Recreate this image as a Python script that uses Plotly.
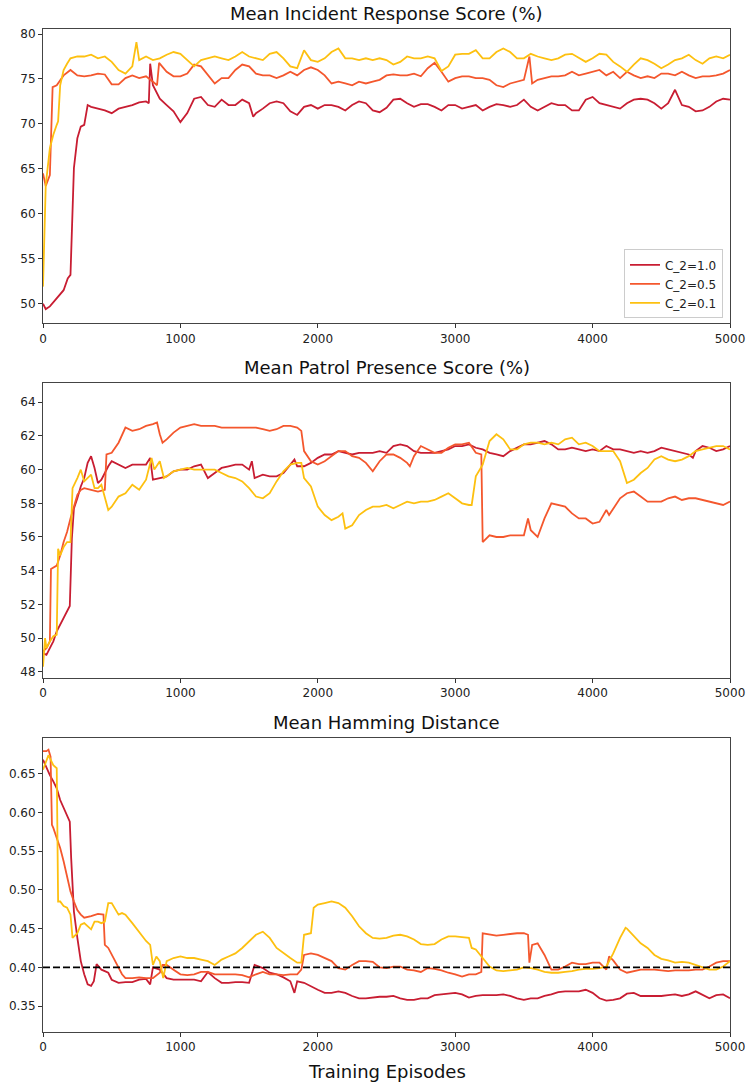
import plotly.graph_objects as go

# ---------------- text / categories ----------------
SERIES_NAMES = ["C_2=1.0", "C_2=0.5", "C_2=0.1"]
PANEL_TITLES = ["Mean Incident Response Score (%)",
                "Mean Patrol Presence Score (%)",
                "Mean Hamming Distance"]
X_LABEL = "Training Episodes"
X_TICKS = [0, 1000, 2000, 3000, 4000, 5000]
IR_TICKS = [50, 55, 60, 65, 70, 75, 80]
PP_TICKS = [48, 50, 52, 54, 56, 58, 60, 62, 64]
HD_TICKS = [0.35, 0.40, 0.45, 0.50, 0.55, 0.60, 0.65]
HD_TICKTEXT = ["0.35", "0.40", "0.45", "0.50", "0.55", "0.60", "0.65"]
HD_THRESHOLD = 0.40


def r50(a, b):
    return list(range(a, b + 1, 50))

# ---------------- Panel 1: incident response ----------------
EP_IR_10 = [0, 20, 50, 100, 150, 180, 200, 225, 250, 275, 300, 325, 350] + r50(400, 750) + [770, 780] + r50(800, 1500) + [1530] + r50(1550, 5000)
IR_10 = [50.0, 49.4, 49.7, 50.6, 51.5, 52.8, 53.2, 65.1, 68.4, 69.7, 69.9, 72.1, 71.9,
         71.7, 71.5, 71.2, 71.7, 71.9, 72.1, 72.4, 72.5,
         72.3, 76.7,
         74.3, 72.8, 72.1, 71.4, 70.2, 71.2, 72.8, 73.0, 72.1, 71.9, 72.7, 72.1, 72.1, 72.7, 72.3,
         70.8,
         71.2, 71.7, 72.3, 72.5, 72.3, 71.4, 71.0, 71.9, 72.1, 71.7,
         72.1, 72.1, 71.9, 71.5, 72.1, 72.5, 72.3, 71.5, 71.3, 71.8,
         72.7, 72.8, 72.3, 71.9, 72.2, 72.2, 71.9, 71.5, 72.1, 72.1,
         71.7, 71.9, 72.1, 71.5, 71.9, 72.2, 72.1, 71.9, 72.1, 72.7,
         71.9, 71.5, 71.9, 72.3, 72.1, 72.1, 71.5, 71.5, 72.7, 73.0,
         72.3, 72.1, 71.9, 71.7, 72.3, 72.7, 72.8, 72.7, 72.3, 71.7,
         72.3, 73.8, 72.1, 71.9, 71.4, 71.5, 71.9, 72.5, 72.8, 72.7]

EP_IR_05 = [0, 20, 50, 70, 100, 125, 150] + r50(200, 800) + [830, 845] + r50(900, 3500) + [3540, 3560] + r50(3600, 5000)
IR_05 = [64.5, 63.1, 64.3, 74.1, 74.3, 74.9, 75.4,
         76.0, 75.4, 75.3, 75.4, 75.6, 75.5, 74.4, 74.4, 75.1, 75.4, 75.1, 75.3, 74.7,
         74.3, 76.8,
         75.8, 75.3, 75.3, 75.6, 76.6, 76.4, 75.4, 74.5, 75.1, 75.1,
         76.0, 76.6, 76.4, 75.6, 75.4, 75.4, 75.1, 75.4, 75.8, 75.4,
         76.0, 76.3, 76.0, 75.4, 74.5, 74.7, 74.5, 74.3, 74.7, 74.5,
         74.7, 74.9, 75.4, 75.5, 75.4, 75.4, 75.6, 75.3, 76.2, 76.8,
         75.8, 74.7, 75.1, 75.3, 75.3, 75.1, 75.1, 74.9, 74.3, 74.1,
         74.5, 74.7, 74.9,
         77.5, 74.5,
         74.9, 75.1, 75.3, 75.3, 75.4, 75.8, 75.4, 75.6, 75.8,
         76.0, 75.4, 75.8, 75.1, 75.8, 75.4, 75.1, 75.3, 75.1, 75.6,
         75.6, 75.4, 75.8, 75.4, 75.1, 75.3, 75.3, 75.4, 75.6, 76.0]

EP_IR_01 = [0, 5, 20, 50, 75, 100, 110, 125, 150, 175] + r50(200, 650) + [680] + r50(700, 5000)
IR_01 = [51.9, 55.0, 63.2, 67.3, 68.8, 69.9, 70.3, 74.3, 76.0, 76.7,
         77.3, 77.5, 77.5, 77.7, 77.3, 77.5, 76.9, 76.0, 75.6, 76.4,
         79.1,
         77.1, 77.5, 77.1, 77.3, 77.7, 78.0, 77.8, 77.1, 76.4, 77.1,
         77.3, 77.5, 77.3, 77.1, 77.5, 78.0, 77.5, 77.3, 77.1, 77.8,
         78.0, 77.3, 76.4, 76.2, 78.2, 77.1, 76.9, 77.3, 78.0, 78.4,
         77.3, 77.3, 77.1, 77.3, 77.1, 77.3, 77.1, 76.6, 76.9, 77.5,
         77.3, 77.3, 77.5, 77.3, 75.9, 76.4, 77.7, 77.8, 77.8, 78.2,
         77.3, 77.3, 78.0, 78.4, 78.0, 77.3, 77.3, 77.8, 77.5, 77.3,
         77.1, 77.3, 77.7, 77.8, 77.3, 76.9, 77.3, 77.8, 77.7, 76.9,
         76.4, 75.8, 76.6, 77.3, 77.1, 76.7, 76.2, 76.6, 77.1, 77.3,
         77.7, 77.1, 76.7, 77.3, 77.5, 77.3, 77.7]

# ---------------- Panel 2: patrol presence ----------------
EP_PP_10 = [0, 25, 50, 75, 100, 125, 150, 175, 195, 210, 225, 250, 275, 300, 325, 350, 375, 400, 425, 450, 475, 500] + r50(550, 750) + [780] + r50(800, 1500) + [1520, 1540] + r50(1600, 1800) + [1830] + r50(1850, 4700) + [4730] + r50(4750, 5000)
PP_10 = [49.1, 49.0, 49.4, 49.8, 50.4, 50.8, 51.2, 51.6, 51.9, 55.9, 57.7, 58.3, 59.0, 59.5, 60.4, 60.8, 60.1, 59.2, 59.4, 59.8, 60.2, 60.5,
         60.3, 60.1, 60.3, 60.3, 60.3,
         60.7,
         59.4, 59.5, 59.6, 59.9, 60.0, 60.0, 60.2, 60.3, 59.5, 59.8, 60.1, 60.2, 60.3, 60.3, 60.0,
         60.5, 59.5,
         59.7, 59.6, 59.6, 59.8, 60.3,
         60.6,
         60.2, 60.2, 60.4, 60.7, 60.9, 60.9, 61.1, 61.0, 60.9, 61.0,
         61.0, 61.0, 61.1, 61.0, 61.4, 61.5, 61.4, 61.1, 61.0, 61.0,
         61.0, 61.1, 61.2, 61.4, 61.4, 61.5, 61.3, 61.2, 61.0, 60.9,
         60.8, 61.1, 61.3, 61.5, 61.5, 61.6, 61.7, 61.5, 61.2, 61.2,
         61.3, 61.2, 61.1, 61.2, 61.1, 61.4, 61.2, 61.2, 61.1, 61.0,
         61.1, 61.0, 61.1, 61.3, 61.2, 61.1, 61.0, 60.9,
         60.7,
         61.1, 61.4, 61.3, 61.1, 61.2, 61.4]

EP_PP_05 = [0, 25, 50, 58, 100, 125, 150, 175, 200, 225, 250, 275, 300, 350, 400, 450, 462] + r50(500, 800) + [830, 850, 870] + r50(900, 1850) + [1880] + r50(1900, 2650) + [2670] + r50(2700, 3150) + [3190] + r50(3200, 3500) + [3530] + r50(3550, 4100) + [4120] + r50(4150, 5000)
PP_05 = [49.2, 49.4, 49.8, 54.1, 54.3, 54.9, 55.7, 56.3, 57.1, 57.8, 58.5, 58.8, 58.9, 58.8, 58.7, 58.8, 60.9,
         61.0, 61.6, 62.5, 62.3, 62.4, 62.6, 62.7,
         62.8, 62.1, 61.6,
         61.8, 62.2, 62.5, 62.6, 62.7, 62.6, 62.6, 62.6, 62.5, 62.5,
         62.5, 62.5, 62.5, 62.5, 62.4, 62.3, 62.4, 62.6, 62.6, 62.5,
         62.3,
         61.1, 60.5, 60.3, 60.5, 60.8, 61.1, 61.1, 60.8, 60.7, 60.4,
         59.9, 60.5, 60.9, 60.9, 60.7, 60.4,
         60.2,
         60.8, 61.4, 61.2, 61.0, 61.0, 61.3, 61.5, 61.5, 61.6, 61.0,
         60.9,
         55.7, 56.1, 56.0, 56.0, 56.1, 56.1, 56.1,
         57.1,
         56.4, 56.0, 57.1, 58.0, 57.9, 57.8, 57.4, 57.1, 57.1, 56.8, 56.9, 57.6,
         57.3,
         57.7, 58.3, 58.6, 58.7, 58.4, 58.1, 58.1, 58.1, 58.3, 58.4,
         58.2, 58.3, 58.3, 58.2, 58.1, 58.0, 57.9, 58.1]

EP_PP_01 = [0, 15, 25, 50, 75, 100, 110, 125, 150, 175, 200, 215, 250, 275, 300, 350, 375, 400, 425, 450, 475, 500] + r50(550, 750) + [790, 810, 850, 880] + r50(900, 1850) + [1880] + r50(1900, 2150) + [2180] + r50(2200, 3100) + [3120] + r50(3150, 5000)
PP_01 = [48.3, 50.0, 49.4, 49.8, 50.1, 50.2, 55.3, 54.9, 55.4, 55.7, 55.7, 58.9, 59.5, 60.0, 59.3, 59.7, 58.9, 58.9, 59.1, 58.3, 57.6, 57.8,
         58.4, 58.6, 59.1, 58.8, 59.4,
         60.7, 60.0, 60.5, 59.5,
         59.6, 59.9, 60.0, 60.1, 60.0, 60.0, 60.0, 60.0, 59.8, 59.6,
         59.5, 59.3, 58.9, 58.4, 58.3, 58.6, 59.3, 59.9, 60.3, 60.4,
         60.4,
         59.5, 59.0, 57.8, 57.3, 57.0, 57.2,
         57.4,
         56.5, 56.7, 57.3, 57.6, 57.8, 57.8, 57.9, 57.7, 57.9, 58.1,
         58.0, 58.1, 58.1, 58.2, 58.4, 58.6, 58.3, 58.0, 57.9,
         57.9,
         59.6, 60.3, 61.7, 62.1, 61.8, 61.2, 61.2, 61.5, 61.6, 61.6,
         61.5, 61.6, 61.5, 61.8, 61.9, 61.5, 61.6, 61.4, 61.1, 61.1,
         61.1, 60.5, 59.2, 59.4, 59.8, 60.1, 60.6, 60.8, 60.6, 60.5,
         60.6, 60.8, 61.1, 61.2, 61.3, 61.4, 61.4, 61.2]

# ---------------- Panel 3: hamming distance ----------------
EP_HD_10 = [0, 25, 50, 75, 100, 125, 150, 175, 195, 205, 225, 250, 275, 300, 325, 350, 370, 390, 425, 450, 475, 500] + r50(550, 750) + [780] + r50(800, 1150) + r50(1200, 1500) + [1540] + r50(1600, 1800) + [1830] + r50(1850, 5000)
HD_10 = [0.668, 0.657, 0.648, 0.640, 0.631, 0.616, 0.606, 0.597, 0.588, 0.541, 0.472, 0.438, 0.408, 0.391, 0.378, 0.376, 0.382, 0.404, 0.397, 0.395, 0.393, 0.384,
         0.380, 0.381, 0.381, 0.384, 0.385,
         0.378,
         0.400, 0.397, 0.386, 0.384, 0.384, 0.384, 0.384, 0.382,
         0.394, 0.386, 0.380, 0.380, 0.381, 0.381, 0.380,
         0.403,
         0.399, 0.393, 0.391, 0.387, 0.382,
         0.367,
         0.382, 0.380, 0.375, 0.371, 0.367, 0.367, 0.369, 0.367, 0.363, 0.360,
         0.360, 0.361, 0.362, 0.362, 0.363, 0.360, 0.358, 0.358, 0.360, 0.360,
         0.364, 0.365, 0.366, 0.367, 0.365, 0.361, 0.363, 0.364, 0.364, 0.364,
         0.365, 0.363, 0.360, 0.358, 0.360, 0.360, 0.363, 0.365, 0.368, 0.369,
         0.369, 0.369, 0.371, 0.367, 0.360, 0.357, 0.358, 0.360, 0.366, 0.367,
         0.363, 0.363, 0.363, 0.363, 0.364, 0.365, 0.363, 0.365, 0.369, 0.365,
         0.360, 0.364, 0.365, 0.360]

EP_HD_05 = [0, 25, 40, 55, 65, 75, 100, 125, 150, 175, 200, 225, 250, 275, 300, 350, 400, 440, 450, 475, 500, 525, 550, 575, 600] + r50(650, 850) + [870] + r50(900, 1850) + [1880] + r50(1900, 3150) + [3190] + r50(3200, 3500) + [3530, 3540, 3560] + r50(3600, 4100) + [4120] + r50(4150, 5000)
HD_05 = [0.679, 0.679, 0.681, 0.672, 0.584, 0.580, 0.567, 0.554, 0.537, 0.517, 0.498, 0.485, 0.474, 0.468, 0.464, 0.466, 0.469, 0.468, 0.429, 0.425, 0.416, 0.408, 0.399, 0.391, 0.386,
         0.386, 0.387, 0.386, 0.386, 0.393,
         0.403,
         0.403, 0.397, 0.391, 0.390, 0.391, 0.394, 0.394, 0.391, 0.391, 0.391,
         0.391, 0.390, 0.387, 0.391, 0.394, 0.391, 0.391, 0.390, 0.391, 0.391,
         0.397,
         0.416, 0.418, 0.416, 0.412, 0.408, 0.399, 0.397, 0.403, 0.408, 0.408,
         0.407, 0.400, 0.399, 0.401, 0.401, 0.397, 0.396, 0.394, 0.399, 0.398,
         0.396, 0.393, 0.391, 0.388, 0.391, 0.391,
         0.394,
         0.444, 0.442, 0.441, 0.442, 0.443, 0.444, 0.444,
         0.442, 0.406, 0.429,
         0.431, 0.416, 0.397, 0.397, 0.401, 0.406, 0.404, 0.404, 0.406, 0.406, 0.397,
         0.414,
         0.409, 0.397, 0.393, 0.395, 0.397, 0.397, 0.397, 0.396, 0.395, 0.396,
         0.396, 0.396, 0.397, 0.397, 0.401, 0.406, 0.408, 0.408]

EP_HD_01 = [0, 25, 40, 50, 75, 100, 110, 125, 150, 175, 200, 215, 250, 275, 300, 350, 375, 400, 425, 450, 475, 500, 550, 575, 600] + [650, 700, 750, 780, 800, 825, 850, 875, 900] + r50(950, 1850) + [1880, 1900, 1950, 1970] + r50(2000, 3100) + [3120] + r50(3150, 4200) + [4240] + r50(4250, 5000)
HD_01 = [0.655, 0.668, 0.674, 0.670, 0.661, 0.657, 0.485, 0.485, 0.479, 0.477, 0.468, 0.438, 0.444, 0.455, 0.457, 0.449, 0.459, 0.459, 0.457, 0.459, 0.483, 0.483, 0.468, 0.470, 0.468,
         0.457, 0.446, 0.434, 0.429, 0.403, 0.414, 0.408, 0.386, 0.408,
         0.412, 0.414, 0.412, 0.412, 0.410, 0.408, 0.403, 0.410, 0.414, 0.418,
         0.425, 0.434, 0.442, 0.446, 0.438, 0.425, 0.418, 0.412, 0.406,
         0.406, 0.442, 0.444, 0.477,
         0.481, 0.483, 0.485, 0.483, 0.477, 0.466, 0.453, 0.444, 0.438, 0.437,
         0.438, 0.441, 0.442, 0.440, 0.436, 0.430, 0.429, 0.430, 0.436, 0.440,
         0.440, 0.439, 0.438,
         0.425,
         0.423, 0.412, 0.401, 0.396, 0.395, 0.396, 0.397, 0.400, 0.399, 0.397,
         0.394, 0.393, 0.393, 0.394, 0.395, 0.397, 0.398, 0.398, 0.399, 0.401,
         0.418, 0.438,
         0.451,
         0.450, 0.440, 0.431, 0.425, 0.416, 0.411, 0.409, 0.406, 0.407, 0.406,
         0.403, 0.400, 0.397, 0.397, 0.401, 0.408]

# ---------------- styling ----------------
COLORS = ["#c81d32", "#f4572d", "#fdc010"]
FONT = "DejaVu Sans"
W, H = 747, 1084
Y_DOMAINS = [[0.7066, 1.0], [0.3532, 0.6468], [0.0, 0.2934]]
Y_RANGES = [[47.82, 80.56], [47.64, 65.13], [0.3165, 0.6964]]

panels = [
    [(EP_IR_10, IR_10), (EP_IR_05, IR_05), (EP_IR_01, IR_01)],
    [(EP_PP_10, PP_10), (EP_PP_05, PP_05), (EP_PP_01, PP_01)],
    [(EP_HD_10, HD_10), (EP_HD_05, HD_05), (EP_HD_01, HD_01)],
]

fig = go.Figure()
for p, series in enumerate(panels):
    ax = "" if p == 0 else str(p + 1)
    for s, (xs, ys) in enumerate(series):
        n = min(len(xs), len(ys))
        fig.add_trace(go.Scatter(
            x=xs[:n], y=ys[:n], mode="lines", name=SERIES_NAMES[s],
            line=dict(color=COLORS[s], width=1.8),
            showlegend=(p == 0), legendgroup=SERIES_NAMES[s],
            xaxis="x" + ax, yaxis="y" + ax))

# threshold line in hamming panel
fig.add_trace(go.Scatter(x=[X_TICKS[0], X_TICKS[-1]], y=[HD_THRESHOLD, HD_THRESHOLD],
                         mode="lines", line=dict(color="black", width=1.8, dash="7px,3px"),
                         showlegend=False, xaxis="x3", yaxis="y3", hoverinfo="skip"))

axis_common = dict(showgrid=False, zeroline=False, showline=True, mirror=True,
                   linecolor="#444444", linewidth=1, ticks="outside", ticklen=4,
                   tickwidth=1, tickcolor="#333333", automargin=False,
                   tickfont=dict(family=FONT, size=12, color="#222222"))
layout = dict(width=W, height=H, margin=dict(l=43, r=17, t=29, b=52, pad=0),
              autosize=False,
              plot_bgcolor="white", paper_bgcolor="white",
              font=dict(family=FONT, color="#222222"),
              legend=dict(x=0.9898, y=0.7115, xanchor="right", yanchor="bottom",
                          bgcolor="rgba(255,255,255,0.85)", bordercolor="#cccccc",
                          borderwidth=1, font=dict(family=FONT, size=12, color="#222222"),
                          tracegroupgap=0))
ytick_sets = [(IR_TICKS, [str(v) for v in IR_TICKS]),
              (PP_TICKS, [str(v) for v in PP_TICKS]),
              (HD_TICKS, HD_TICKTEXT)]
annotations = []
for p in range(3):
    ax = "" if p == 0 else str(p + 1)
    layout["xaxis" + ax] = dict(axis_common, domain=[0, 1], range=[X_TICKS[0], X_TICKS[-1]],
                                tickvals=X_TICKS, ticktext=[str(v) for v in X_TICKS],
                                anchor="y" + ax)
    layout["yaxis" + ax] = dict(axis_common, domain=Y_DOMAINS[p], range=Y_RANGES[p],
                                tickvals=ytick_sets[p][0], ticktext=ytick_sets[p][1],
                                anchor="x" + ax)
    annotations.append(dict(text=PANEL_TITLES[p], x=0.5, xref="paper", y=Y_DOMAINS[p][1],
                            yref="paper", xanchor="center", yanchor="bottom", yshift=3,
                            showarrow=False, font=dict(family=FONT, size=18, color="#111111")))
annotations.append(dict(text=X_LABEL, x=0.5, xref="paper", y=0, yref="paper",
                        xanchor="center", yanchor="middle", yshift=-39.5, showarrow=False,
                        font=dict(family=FONT, size=18, color="#111111")))
layout["annotations"] = annotations
fig.update_layout(**layout)

fig.write_html("out.html", config={"displayModeBar": False},
               post_script="document.body.style.margin='0px';document.body.style.padding='0px';")
